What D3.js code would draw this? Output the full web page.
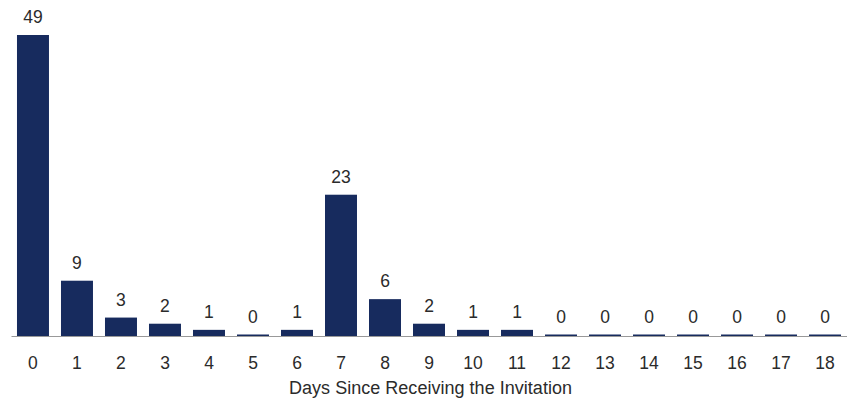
<!DOCTYPE html>
<html>
<head>
<meta charset="utf-8">
<script src="https://cdn.jsdelivr.net/npm/d3@7"></script>
<style>
  html, body { margin: 0; padding: 0; background: #fff; }
  svg text { font-family: "Liberation Sans", Arial, sans-serif; fill: #2b2b2b; }
</style>
</head>
<body>
<svg id="chart" width="847" height="400"></svg>
<script>
// Responses by number of days after the invitation was received
const days = ["0","1","2","3","4","5","6","7","8","9","10","11","12","13","14","15","16","17","18"];
const counts = [49, 9, 3, 2, 1, 0, 1, 23, 6, 2, 1, 1, 0, 0, 0, 0, 0, 0, 0];
const xTitle = "Days Since Receiving the Invitation";

const svg = d3.select("#chart");
const plotLeft = 11, plotRight = 847, baseline = 336, plotTop = 35;

const x = d3.scaleBand().domain(days).range([plotLeft, plotRight]).paddingInner(0.273).paddingOuter(0.136);
const y = d3.scaleLinear().domain([0, 49]).range([baseline, plotTop]);

const barColor = "#172b5e";
const minStub = 1.5; // keeps zero-valued bars visible as a thin line

svg.append("g").selectAll("rect")
  .data(counts)
  .join("rect")
  .attr("x", (d, i) => x(days[i]))
  .attr("width", x.bandwidth())
  .attr("y", d => Math.min(y(d), baseline - minStub))
  .attr("height", d => Math.max(baseline - y(d), minStub))
  .attr("fill", barColor);

// value labels above bars
svg.append("g").selectAll("text")
  .data(counts)
  .join("text")
  .attr("x", (d, i) => x(days[i]) + x.bandwidth() / 2)
  .attr("y", d => Math.min(y(d), baseline - minStub) - 12)
  .attr("text-anchor", "middle")
  .attr("font-size", 17.5)
  .text(d => d);

// x axis
const axis = svg.append("g")
  .attr("transform", `translate(0,${baseline})`)
  .call(d3.axisBottom(x).tickSize(0));
axis.select(".domain").attr("stroke", "#999").attr("stroke-width", 1.2);
axis.selectAll(".tick text")
  .attr("y", 33).attr("dy", null)
  .attr("font-size", 17.5).attr("fill", "#2b2b2b")
  .attr("font-family", "Liberation Sans, Arial, sans-serif");

svg.append("text")
  .attr("x", 289)
  .attr("y", 394)
  .attr("text-anchor", "start")
  .attr("font-size", 18)
  .attr("textLength", 283)
  .text(xTitle);
</script>
</body>
</html>
